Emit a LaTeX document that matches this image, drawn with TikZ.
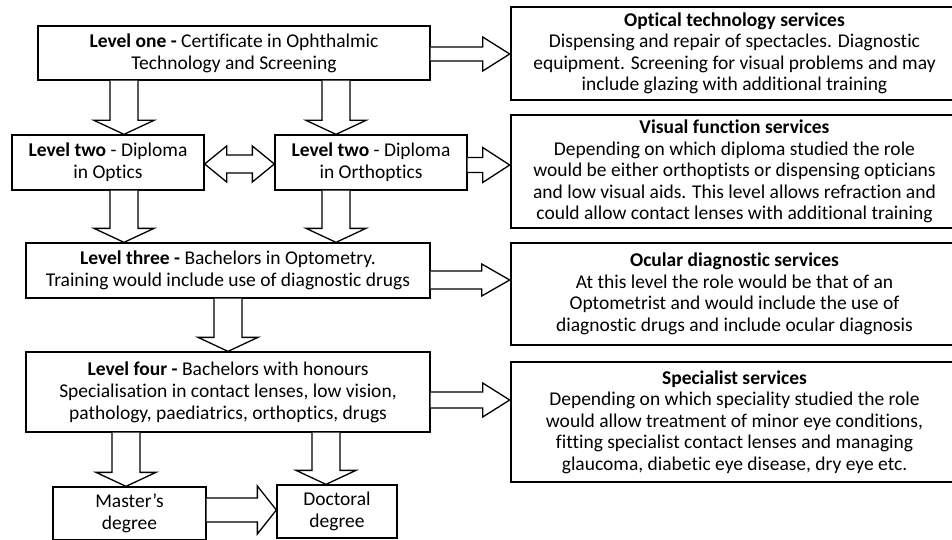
\documentclass[tikz,border=0pt]{standalone}
\usepackage{fontspec}
\setmainfont{Carlito}[Ligatures=NoCommon]
\usetikzlibrary{calc}

\tikzset{
	level/.style={draw, line width=1.3pt, align=center, inner sep=0pt},
	service/.style={draw, line width=2.6pt, align=center, inner sep=0pt, minimum width=447pt,
		font=\fontsize{19.5}{21.5}\selectfont},
	blockarrow/.style={draw, line width=1.3pt, fill=white},
}

% block arrow pointing down: x, from, to
\newcommand{\downblock}[3]{%
	\draw[blockarrow] (#1-14,0 |- #2.south) -- ($(#1-14,0 |- #3.north)+(0,-14)$)
		-- ($(#1-30,0 |- #3.north)+(0,-14)$) -- (#1,0 |- #3.north)
		-- ($(#1+30,0 |- #3.north)+(0,-14)$) -- ($(#1+14,0 |- #3.north)+(0,-14)$)
		-- (#1+14,0 |- #2.south);
}
% block arrow pointing right: y, from, to, shaft half width, head half width, head length
\newcommand{\rightblock}[6]{%
	\draw[blockarrow] (#2.east |- 0,#1-#4) -- ($(#3.west |- 0,#1-#4)+(-#6,0)$)
		-- ($(#3.west |- 0,#1-#5)+(-#6,0)$) -- (#3.west |- 0,#1)
		-- ($(#3.west |- 0,#1+#5)+(-#6,0)$) -- ($(#3.west |- 0,#1+#4)+(-#6,0)$)
		-- (#2.east |- 0,#1+#4);
}

\begin{document}
\begin{tikzpicture}[x=1pt, y=-1pt, font=\fontsize{19.5}{22}\selectfont]
	\useasboundingbox (0,0) rectangle (952,540);
	\clip (0,0) rectangle (952,540);

	% levels
	\node (one)[level, minimum width=392pt, minimum height=54pt] at (234, 53) {\textbf{Level one -} Certificate in Ophthalmic\\Technology and Screening};
	\node (optics)[level, minimum width=192pt, minimum height=55pt] at (108, 162.5) {\textbf{Level two} - Diploma\\in Optics};
	\node (orthoptics)[level, minimum width=192pt, minimum height=55pt] at (371, 162.5) {\textbf{Level two} - Diploma\\in Orthoptics};
	\node (three)[level, minimum width=404pt, minimum height=55pt] at (228, 270.5) {\textbf{Level three -} Bachelors in Optometry.\\Training would include use of diagnostic drugs};
	\node (four)[level, minimum width=404pt, minimum height=80pt] at (228, 392) {\textbf{Level four -} Bachelors with honours\\Specialisation in contact lenses, low vision,\\pathology, paediatrics, orthoptics, drugs};
	\node (masters)[level, minimum width=153pt, minimum height=53pt] at (129.5, 513.5) {Master’s\\degree};
	\node (doctoral)[level, minimum width=120pt, minimum height=53pt] at (337, 511.5) {Doctoral\\degree};

	% services
	\node (optical)[service, minimum height=93pt] at (734.5, 53.5) {\textbf{Optical technology services}\\Dispensing and repair of spectacles. Diagnostic\\equipment. Screening for visual problems and may\\include glazing with additional training};
	\node (visual)[service, minimum height=113pt] at (734.5, 171.5) {\textbf{Visual function services}\\Depending on which diploma studied the role\\would be either orthoptists or dispensing opticians\\and low visual aids. This level allows refraction and\\could allow contact lenses with additional training};
	\node (ocular)[service, minimum height=102pt] at (734.5, 294) {\textbf{Ocular diagnostic services}\\At this level the role would be that of an\\Optometrist and would include the use of\\diagnostic drugs and include ocular diagnosis};
	\node (specialist)[service, minimum height=120pt] at (734.5, 422) {\textbf{Specialist services}\\Depending on which speciality studied the role\\would allow treatment of minor eye conditions,\\fitting specialist contact lenses and managing\\glaucoma, diabetic eye disease, dry eye etc.};

	% down arrows
	\downblock{124}{one}{optics}
	\downblock{336}{one}{orthoptics}
	\downblock{124}{optics}{three}
	\downblock{336}{orthoptics}{three}
	\downblock{228}{three}{four}
	\downblock{126}{four}{masters}
	\downblock{326}{four}{doctoral}

	% right arrows
	\rightblock{54}{one}{optical}{7}{17}{27}
	\rightblock{165}{orthoptics}{visual}{7.5}{17.5}{27}
	\rightblock{280}{three}{ocular}{9}{16}{28}
	\rightblock{400}{four}{specialist}{8}{17}{27}
	\rightblock{510}{masters}{doctoral}{12}{24}{19}

	% both ways between the diplomas
	\draw[blockarrow] (optics.east |- 0,164) -- ++(22,-18) -- ++(0,9)
		-- ($(orthoptics.west |- 0,155)+(-22,0)$) -- ++(0,-9) -- (orthoptics.west |- 0,164)
		-- ++(-22,18) -- ++(0,-9) -- ($(optics.east |- 0,173)+(22,0)$) -- ++(0,9) -- cycle;
\end{tikzpicture}
\end{document}
